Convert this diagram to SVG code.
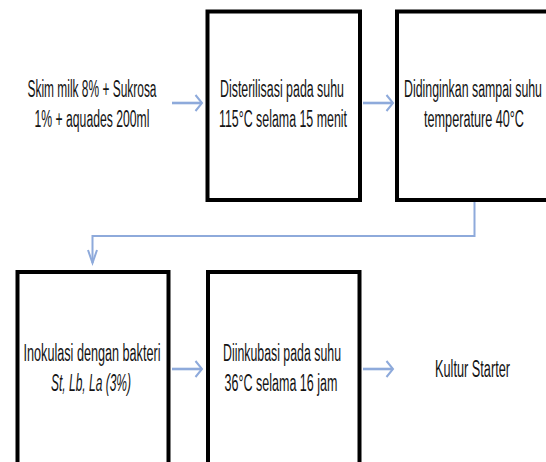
<svg xmlns="http://www.w3.org/2000/svg" width="546" height="462" viewBox="0 0 546 462">
<style>
.box{fill:#fff;stroke:#000;stroke-width:4}
.t{font-family:"Liberation Sans Narrow","Liberation Sans","DejaVu Sans Condensed",sans-serif;font-size:23px;fill:#141414;text-anchor:middle}
.it{font-style:italic}
.arr{fill:none;stroke:#8eaadb;stroke-width:2.6}
.conn{fill:none;stroke:#8eaadb;stroke-width:2}
.head{fill:none;stroke:#8eaadb;stroke-width:2}
</style>
<defs>
<marker id="ah" markerUnits="userSpaceOnUse" markerWidth="12" markerHeight="20" refX="8" refY="9" orient="auto" overflow="visible">
<path d="M1.5,1 L8,9 L1.5,17" class="head"/>
</marker>
<marker id="av" markerUnits="userSpaceOnUse" markerWidth="18" markerHeight="14" refX="14" refY="5.5" orient="auto" overflow="visible">
<path d="M1,1 L14,5.5 L1,10" class="head"/>
</marker>
</defs>
<rect width="546" height="462" fill="#fff"/>
<g id="start">
<text class="t" x="92" y="97" textLength="129" lengthAdjust="spacingAndGlyphs">Skim milk 8% + Sukrosa</text>
<text class="t" x="92" y="127" textLength="115" lengthAdjust="spacingAndGlyphs">1% + aquades 200ml</text>
</g>
<g id="sterilisasi">
<rect class="box" x="207.5" y="11.5" width="152.5" height="188.5"/>
<text class="t" x="282" y="97" textLength="124" lengthAdjust="spacingAndGlyphs">Disterilisasi pada suhu</text>
<text class="t" x="283" y="127" textLength="128" lengthAdjust="spacingAndGlyphs">115°C selama 15 menit</text>
</g>
<g id="didinginkan">
<rect class="box" x="397" y="11.5" width="160" height="188.5"/>
<text class="t" x="473" y="97" textLength="138" lengthAdjust="spacingAndGlyphs">Didinginkan sampai suhu</text>
<text class="t" x="474" y="127" textLength="100" lengthAdjust="spacingAndGlyphs">temperature 40°C</text>
</g>
<g id="inokulasi">
<rect class="box" x="17.5" y="272" width="151" height="200"/>
<text class="t" x="92" y="361" textLength="137" lengthAdjust="spacingAndGlyphs">Inokulasi dengan bakteri</text>
<text class="t it" x="91" y="391" textLength="80" lengthAdjust="spacingAndGlyphs">St, Lb, La (3%)</text>
</g>
<g id="inkubasi">
<rect class="box" x="208" y="272" width="151.5" height="200"/>
<text class="t" x="282" y="361" textLength="118" lengthAdjust="spacingAndGlyphs">Diinkubasi pada suhu</text>
<text class="t" x="281" y="391" textLength="113" lengthAdjust="spacingAndGlyphs">36°C selama 16 jam</text>
</g>
<g id="kultur">
<text class="t" x="472.5" y="377" textLength="75" lengthAdjust="spacingAndGlyphs">Kultur Starter</text>
</g>
<g id="connectors">
<line class="arr" x1="172" y1="103" x2="202" y2="103" marker-end="url(#ah)"/>
<line class="arr" x1="363" y1="103" x2="393" y2="103" marker-end="url(#ah)"/>
<polyline class="conn" points="474.5,202 474.5,236 92.5,236 92.5,263" marker-end="url(#av)"/>
<line class="arr" x1="172" y1="369" x2="202" y2="369" marker-end="url(#ah)"/>
<line class="arr" x1="363" y1="369" x2="393" y2="369" marker-end="url(#ah)"/>
</g>
</svg>
